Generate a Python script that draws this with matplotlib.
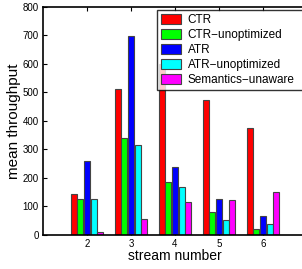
import numpy as np
import matplotlib
matplotlib.use('Agg')
import matplotlib.pyplot as plt

plt.rcParams['font.family'] = ['Liberation Sans', 'DejaVu Sans']

streams = [2, 3, 4, 5, 6]
series_names = ['CTR', 'CTR\u2212unoptimized', 'ATR', 'ATR\u2212unoptimized', 'Semantics\u2212unaware']
colors = ['#ff0000', '#00ff00', '#0000ff', '#00ffff', '#ff00ff']

ctr = [143, 512, 600, 474, 374]
ctr_unopt = [125, 340, 187, 82, 22]
atr = [258, 697, 237, 127, 68]
atr_unopt = [125, 317, 170, 54, 39]
sem_unaware = [12, 55, 116, 123, 150]
values = [ctr, ctr_unopt, atr, atr_unopt, sem_unaware]

fig = plt.figure(figsize=(3.02, 2.69), dpi=100)
ax = fig.add_axes([0.1424, 0.1264, 0.874, 0.8476])

x = np.array(streams, dtype=float)
width = 0.135
offsets = [-0.3, -0.15, 0.0, 0.15, 0.3]
for vals, name, c, off in zip(values, series_names, colors, offsets):
    ax.bar(x + off, vals, width=width, color=c, edgecolor='#444444',
           linewidth=0.8, label=name, zorder=2)

ax.set_xlim(1, 7)
ax.set_ylim(0, 800)
ax.set_xticks(streams)
ax.set_yticks(range(0, 801, 100))
ax.tick_params(direction='in', labelsize=7, length=3, top=True, right=True, pad=3)
for sp in ax.spines.values():
    sp.set_linewidth(1.2)

ax.set_xlabel('stream number', fontsize=10, labelpad=0)
ax.set_ylabel('mean throughput', fontsize=11, labelpad=1)

# legend box runs past the right edge of the figure, as in the original
leg = ax.legend(loc='upper left', bbox_to_anchor=(0.432, 0.0, 0.6, 0.987),
                mode='expand', fontsize=8.5,
                frameon=True, fancybox=False, borderaxespad=0,
                handlelength=1.7, handleheight=0.85, labelspacing=0.25,
                handletextpad=0.55, borderpad=0.35)
leg.get_frame().set_edgecolor('black')
leg.get_frame().set_linewidth(1.0)
leg.set_zorder(5)

fig.savefig('out.png', dpi=100)
